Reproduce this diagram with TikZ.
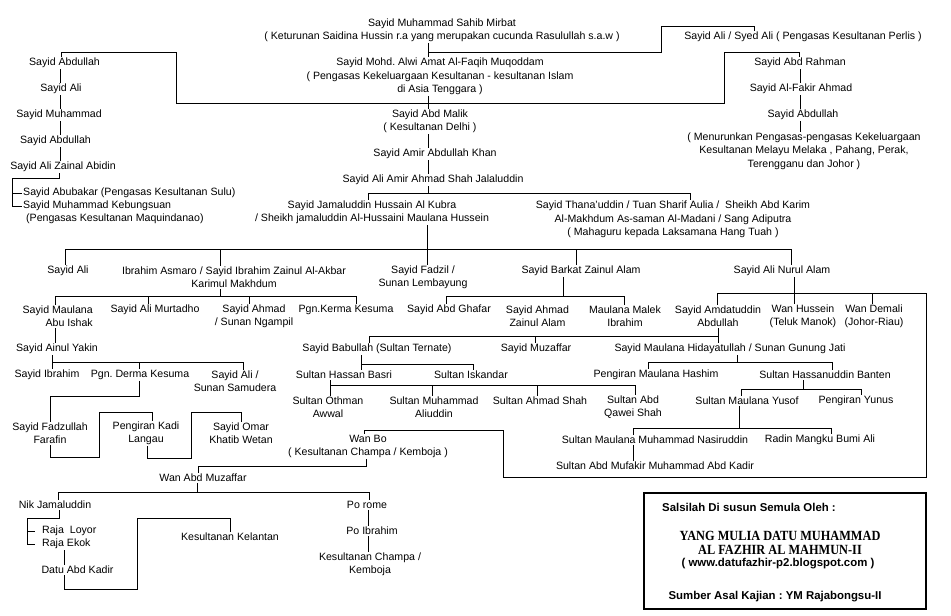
\documentclass[tikz,border=0pt]{standalone}
\usepackage{fontspec}
\usepackage{graphicx}
\setmainfont{Liberation Sans}
\newfontfamily\creditserif{Liberation Serif}
\newcommand{\narrow}[1]{\scalebox{0.88}[1]{#1}}
\frenchspacing
\tikzset{
	person/.style={inner sep=1pt, align=center, font=\fontsize{10.6}{13.3}\selectfont},
	link/.style={line width=0.85pt},
	credit/.style={inner sep=1pt, font=\fontsize{11.4}{13}\selectfont\bfseries}
}

\begin{document}
\begin{tikzpicture}[x=1pt, y=-1pt]
	\useasboundingbox (0,0) rectangle (951,616);
		% top of the line
		\node [person] (mirbat) at (442,30) 
			{Sayid Muhammad Sahib Mirbat\\( Keturunan Saidina Hussin r.a yang merupakan cucunda Rasulullah s.a.w )};
		\node [person] (perlis) at (803,37) 
			{Sayid Ali / Syed Ali ( Pengasas Kesultanan Perlis )};
		\node [person] (alwi) at (440,76.5) 
			{Sayid Mohd. Alwi Amat Al-Faqih Muqoddam\\( Pengasas Kekeluargaan Kesultanan - kesultanan Islam\\di Asia Tenggara )};
		\node [person] (malik) at (430,121.5) 
			{Sayid Abd Malik\\( Kesultanan Delhi )};
		\node [person] (khan) at (435,154) 
			{Sayid Amir Abdullah Khan};
		\node [person] (jalal) at (433,180) 
			{Sayid Ali Amir Ahmad Shah Jalaluddin};
		% left column
		\node [person] (labd1) at (64.5,63) {Sayid Abdullah};
		\node [person] (lali) at (61,89) {Sayid Ali};
		\node [person] (lmuh) at (59,115) {Sayid Muhammad};
		\node [person] (labd2) at (55.5,141) {Sayid Abdullah};
		\node [person] (zainal) at (63,167) {Sayid Ali Zainal Abidin};
		\node [person, anchor=west] (abubakar) at (22,193) 
			{Sayid Abubakar (Pengasas Kesultanan Sulu)};
		\node [person, anchor=west, align=left] (kebung) at (22,212.5) 
			{Sayid Muhammad Kebungsuan\\\hspace*{3pt}(Pengasas Kesultanan Maquindanao)};
		% right column
		\node [person] (rahman) at (800,63) {Sayid Abd Rahman};
		\node [person] (fakir) at (801,89) {Sayid Al-Fakir Ahmad};
		\node [person] (rabd) at (803,115) {Sayid Abdullah};
		\node [person] (melayu) at (804,151) 
			{( Menurunkan Pengasas-pengasas Kekeluargaan\\Kesultanan Melayu Melaka , Pahang, Perak,\\Terengganu dan Johor )};
		% sons of jalaluddin
		\node [person] (jamal) at (372,212.5) 
			{Sayid Jamaluddin Hussain Al Kubra\\/ Sheikh jamaluddin Al-Hussaini Maulana Hussein};
		\node [person] (thana) at (673,219.5) 
			{Sayid Thana'uddin / Tuan Sharif Aulia /\ \ Sheikh Abd Karim\\Al-Makhdum As-saman Al-Madani / Sang Adiputra\\( Mahaguru kepada Laksamana Hang Tuah )};
		% sons of jamaluddin
		\node [person] (sali) at (68,271) {Sayid Ali};
		\node [person] (asmaro) at (234,277.5) 
			{Ibrahim Asmaro / Sayid Ibrahim Zainul Al-Akbar\\Karimul Makhdum};
		\node [person] (fadzil) at (423,277.5) {Sayid Fadzil /\\Sunan Lembayung};
		\node [person] (barkat) at (581,271) {Sayid Barkat Zainul Alam};
		\node [person] (nurul) at (782,271) {Sayid Ali Nurul Alam};
		% next generation
		\node [person, anchor=east, align=right] (ishak) at (94,316.5) {Sayid Maulana\\Abu Ishak};
		\node [person] (murtadho) at (155,310) {Sayid Ali Murtadho};
		\node [person] (ngampil) at (254,316.5) {Sayid Ahmad\\/ Sunan Ngampil};
		\node [person] (kerma) at (346,310) {Pgn.Kerma Kesuma};
		\node [person] (ghafar) at (449,310) {Sayid Abd Ghafar};
		\node [person] (zahmad) at (537.5,316.5) {Sayid Ahmad\\Zainul Alam};
		\node [person] (malek) at (625,316.5) {Maulana Malek\\Ibrahim};
		\node [person] (amdat) at (718,316.5) {Sayid Amdatuddin\\Abdullah};
		\node [person] (whussein) at (803,316.5) {Wan Hussein\\(Teluk Manok)};
		\node [person] (wdemali) at (874,316.5) {Wan Demali\\(Johor-Riau)};
		\node [person] (ainul) at (57,349) {Sayid Ainul Yakin};
		\node [person] (babullah) at (377,349) {Sayid Babullah (Sultan Ternate)};
		\node [person] (muzaffar) at (536,349) {Sayid Muzaffar};
		\node [person] (hidayat) at (730,349) {Sayid Maulana Hidayatullah / Sunan Gunung Jati};
		\node [person] (sibrahim) at (47,375) {Sayid Ibrahim};
		\node [person] (derma) at (140,375) {Pgn. Derma Kesuma};
		\node [person] (samudera) at (235,381.5) {Sayid Ali /\\Sunan Samudera};
		\node [person] (hbasri) at (344,375) {Sultan Hassan Basri};
		\node [person] (iskandar) at (471,375) {Sultan Iskandar};
		\node [person] (hashim) at (656,375) {Pengiran Maulana Hashim};
		\node [person] (hassanuddin) at (825,375) {Sultan Hassanuddin Banten};
		\node [person] (othman) at (328,407.5) {Sultan Othman\\Awwal};
		\node [person] (aliuddin) at (434,407.5) {Sultan Muhammad\\Aliuddin};
		\node [person] (ahmadshah) at (540,401) {Sultan Ahmad Shah};
		\node [person] (qawei) at (633,407.5) {Sultan Abd\\Qawei Shah};
		\node [person] (yusof) at (747,401) {Sultan Maulana Yusof};
		\node [person] (yunus) at (856,401) {Pengiran Yunus};
		\node [person] (fadzullah) at (50,433.5) {Sayid Fadzullah\\Farafin};
		\node [person] (kadi) at (146,433.5) {Pengiran Kadi\\Langau};
		\node [person] (omar) at (241,433.5) {Sayid Omar\\Khatib Wetan};
		\node [person] (wanbo) at (368,446.5) {Wan Bo\\( Kesultanan Champa / Kemboja )};
		\node [person] (nasiruddin) at (655,440) {Sultan Maulana Muhammad Nasiruddin};
		\node [person] (radin) at (820,440) {Radin Mangku Bumi Ali};
		\node [person] (mufakir) at (655,466) {Sultan Abd Mufakir Muhammad Abd Kadir};
		% champa and kelantan
		\node [person] (wmuzaffar) at (203,478) {Wan Abd Muzaffar};
		\node [person] (nikjamal) at (55,505) {Nik Jamaluddin};
		\node [person] (porome) at (367,505) {Po rome};
		\node [person, anchor=west] (loyor) at (41,531) {Raja\ \ Loyor};
		\node [person, anchor=west] (ekok) at (41,544) {Raja Ekok};
		\node [person] (kadir) at (77.5,570) {Datu Abd Kadir};
		\node [person] (kelantan) at (230,537) {Kesultanan Kelantan};
		\node [person] (poibrahim) at (372,531) {Po Ibrahim};
		\node [person] (champa) at (370,564.5) {Kesultanan Champa /\\Kemboja};

		% connectors
		\foreach \a/\b in {mirbat/alwi, alwi/malik, malik/khan, khan/jalal}
			\draw [link] (\a.south -| 428,0) -- (\b.north -| 428,0);
		\draw [link] (mirbat.south -| 428,0) ++(0,9.5) -| (661,26) -| (perlis.north -| 754,0);
		\draw [link] (labd1.north -| 61,0) |- (176,52) |- (724,103) |- (799,52) -- (rahman.north -| 799,0);
		\foreach \a/\b in {labd1/lali, lali/lmuh, lmuh/labd2, labd2/zainal}
			\draw [link] (\a.south -| 60,0) -- (\b.north -| 60,0);
		\draw [link] (zainal.south -| 59,0) |- (12,178) |- (kebung.north west |- 0,206);
		\draw [link] (12,193) -- (abubakar.west);
		\foreach \a/\b in {rahman/fakir, fakir/rabd, rabd/melayu}
			\draw [link] (\a.south -| 800,0) -- (\b.north -| 800,0);
		\draw [link] (jalal.south -| 428,0) -- (428,193);
		\draw [link] (jamal.north -| 368,0) |- (690,193) -- (thana.north -| 690,0);
		\draw [link] (jamal.south -| 427,0) -- (fadzil.north -| 427,0);
		\draw [link] (sali.north -| 65,0) |- (791,249) -- (nurul.north -| 791,0);
		\foreach \c/\x in {asmaro/220, barkat/576}
			\draw [link] (\c.north -| \x,0) -- (\x,249);
		\draw [link] (asmaro.south -| 220,0) -- (220,296);
		\draw [link] (ishak.north -| 55,0) |- (356,296) -- (kerma.north -| 356,0);
		\foreach \c/\x in {murtadho/148, ngampil/249}
			\draw [link] (\c.north -| \x,0) -- (\x,296);
		\draw [link] (barkat.south -| 563,0) -- (563,296);
		\draw [link] (ghafar.north -| 446,0) |- (624,296) -- (malek.north -| 624,0);
		\draw [link] (nurul.south -| 794,0) -- (whussein.north -| 794,0);
		\draw [link] (amdat.north -| 717,0) |- (926,293) |- (503,477) |- (364,430) -- (wanbo.north -| 364,0);
		\draw [link] (wdemali.north -| 872,0) -- (872,293);
		\draw [link] (amdat.south -| 718,0) -- (hidayat.north -| 718,0);
		\draw [link] (babullah.north -| 369,0) |- (718,336);
		\draw [link] (muzaffar.north -| 535,0) -- (535,336);
		\draw [link] (babullah.south -| 361,0) -- (hbasri.north -| 361,0);
		\draw [link] (361,364) -| (iskandar.north -| 473,0);
		\draw [link] (hbasri.south -| 330,0) -- (othman.north -| 330,0);
		\draw [link] (330,385) -| (qawei.north -| 635,0);
		\foreach \c/\x in {aliuddin/432, ahmadshah/537}
			\draw [link] (\c.north -| \x,0) -- (\x,385);
		\draw [link] (hidayat.south -| 737,0) -- (737,362);
		\draw [link] (hashim.north -| 648,0) |- (832,362) -- (hassanuddin.north -| 832,0);
		\draw [link] (hassanuddin.south -| 803,0) -- (803,389);
		\draw [link] (yusof.north -| 741,0) |- (861,389) -- (yunus.north -| 861,0);
		\draw [link] (yusof.south -| 739,0) -- (739,428);
		\draw [link] (nasiruddin.north -| 633,0) |- (831,428) -- (radin.north -| 831,0);
		\draw [link] (nasiruddin.south -| 633,0) -- (mufakir.north -| 633,0);
		\draw [link] (ishak.south -| 55,0) -- (ainul.north -| 55,0);
		\draw [link] (ainul.south -| 52,0) -- (sibrahim.north -| 52,0);
		\draw [link] (52,362) -| (samudera.north -| 243,0);
		\draw [link] (derma.north -| 139,0) -- (139,362);
		\draw [link] (derma.south -| 139,0) |- (50,396) -- (fadzullah.north -| 50,0);
		\draw [link] (fadzullah.south -| 50,0) |- (99,457) |- (152,412) -- (kadi.north -| 152,0);
		\draw [link] (kadi.south -| 147,0) |- (191,458) |- (241,412) -- (omar.north -| 241,0);
		\draw [link] (wanbo.south -| 366,0) |- (198,466) -- (wmuzaffar.north -| 198,0);
		\draw [link] (wmuzaffar.south -| 197,0) -- (197,492);
		\draw [link] (nikjamal.north -| 58,0) |- (369,492) -- (porome.north -| 369,0);
		\draw [link] (nikjamal.south -| 59,0) |- (27,518) |- ([xshift=-6pt]ekok.west);
		\draw [link] (27,531) -- ([xshift=-6pt]loyor.west);
		\draw [link] (ekok.south -| 64,0) -- (kadir.north -| 64,0);
		\draw [link] (kadir.south -| 64,0) |- (137,589) |- (230,518) -- (kelantan.north -| 230,0);
		\foreach \a/\b in {porome/poibrahim, poibrahim/champa}
			\draw [link] (\a.south -| 368,0) -- (\b.north -| 368,0);

		% credit box
		\draw [line width=2.6pt] (644,493) rectangle (926,609);
		\node [credit, anchor=west] (salsilah) at (661,507) 
			{Salsilah Di susun Semula Oleh :};
		\node [credit, align=center, font=\creditserif\fontsize{14}{14}\selectfont\bfseries] (datu) at (780,543) 
			{\narrow{YANG MULIA DATU MUHAMMAD}\\\narrow{AL FAZHIR AL MAHMUN-II}};
		\node [credit] (blog) at (778,564) 
			{( www.datufazhir-p2.blogspot.com )};
		\node [credit] (sumber) at (775,597) 
			{Sumber Asal Kajian : YM Rajabongsu-II};
\end{tikzpicture}
\end{document}
